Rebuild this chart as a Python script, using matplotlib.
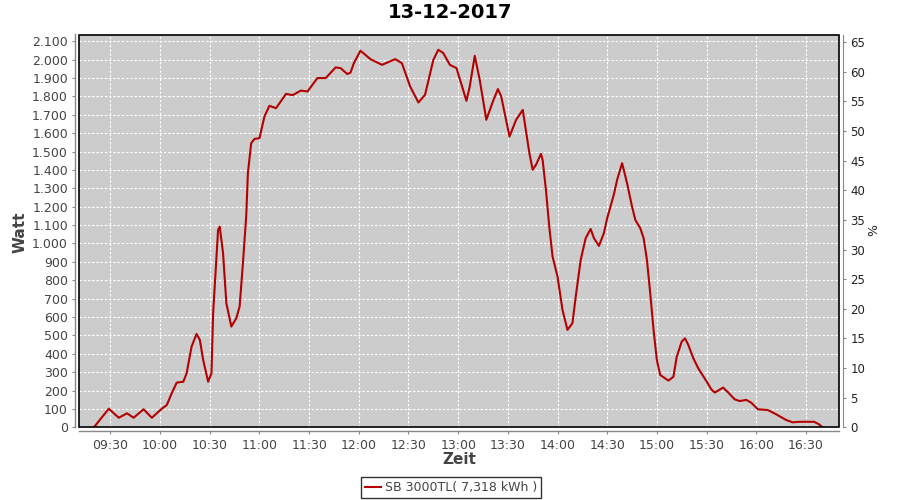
import matplotlib
matplotlib.use("Agg")
import matplotlib.pyplot as plt
import matplotlib.dates as mdates
from matplotlib.ticker import FuncFormatter, MultipleLocator
from matplotlib.patches import Rectangle
import pandas as pd

title = "13-12-2017"
series_label = "SB 3000TL( 7,318 kWh )"
times = [
    "09:20", "09:29", "09:35", "09:40", "09:44", "09:50", "09:55", "10:01", "10:04", "10:07",
    "10:10", "10:14", "10:16", "10:19", "10:22", "10:24", "10:26", "10:29", "10:31", "10:32",
    "10:35", "10:36", "10:38", "10:40", "10:43", "10:46", "10:48", "10:50", "10:52", "10:53",
    "10:55", "10:57", "11:00", "11:03", "11:06", "11:10", "11:16", "11:20", "11:25", "11:29",
    "11:35", "11:40", "11:46", "11:49", "11:53", "11:55", "11:57", "12:01", "12:07", "12:14",
    "12:22", "12:26", "12:31", "12:36", "12:40", "12:45", "12:48", "12:51", "12:55", "12:59",
    "13:05", "13:07", "13:10", "13:13", "13:17", "13:21", "13:24", "13:26", "13:31", "13:35",
    "13:39", "13:43", "13:45", "13:47", "13:50", "13:51", "13:53", "13:55", "13:57", "14:00",
    "14:03", "14:06", "14:09", "14:11", "14:14", "14:17", "14:20", "14:22", "14:25", "14:28",
    "14:30", "14:34", "14:36", "14:39", "14:42", "14:45", "14:47", "14:50", "14:52", "14:54",
    "14:56", "14:58", "15:00", "15:02", "15:07", "15:10", "15:12", "15:15", "15:17", "15:19",
    "15:22", "15:25", "15:30", "15:33", "15:35", "15:40", "15:43", "15:47", "15:50", "15:54",
    "15:57", "16:01", "16:07", "16:12", "16:18", "16:22", "16:26", "16:35", "16:38", "16:40",
]
watts = [
    0, 101, 52, 76, 52, 98, 52, 101, 121, 185,
    243, 248, 294, 439, 508, 475, 366, 248, 294, 620,
    1074, 1092, 947, 675, 548, 593, 657, 893, 1150, 1383,
    1546, 1569, 1573, 1691, 1749, 1736, 1814, 1807, 1832, 1827,
    1900, 1900, 1958, 1954, 1922, 1930, 1981, 2049, 2003, 1972,
    2003, 1981, 1854, 1767, 1809, 1999, 2054, 2036, 1972, 1954,
    1776, 1854, 2021, 1891, 1673, 1773, 1840, 1800, 1582, 1673,
    1727, 1492, 1401, 1428, 1488, 1455, 1292, 1092, 929, 820,
    639, 530, 566, 711, 911, 1029, 1079, 1029, 987, 1056,
    1138, 1265, 1346, 1437, 1328, 1201, 1128, 1083, 1029, 911,
    729, 530, 366, 285, 254, 275, 384, 466, 484, 448,
    376, 321, 250, 205, 189, 216, 190, 152, 143, 149,
    134, 98, 94, 71, 40, 27, 30, 30, 16, 0,
]
x_start, x_end = "09:11", "16:50"
watt_max = 2137
pct_max = 66.3

day = "2017-12-13 "
tx = pd.to_datetime([day + t for t in times])

fig = plt.figure(figsize=(9, 5), dpi=100)
fig.patch.set_facecolor("white")
L, R, T, B = 79, 839, 34.5, 427.3
ax = fig.add_axes([L / 900, 1 - B / 500, (R - L) / 900, (B - T) / 500])
ax.set_facecolor("#cccccc")

ax.plot(tx, watts, color="#b40000", lw=1.5, zorder=3, label=series_label)

ax.set_xlim(pd.Timestamp(day + x_start), pd.Timestamp(day + x_end))
ax.set_ylim(0, watt_max)
ax.xaxis.set_major_locator(mdates.MinuteLocator(byminute=[0, 30]))
ax.xaxis.set_major_formatter(mdates.DateFormatter("%H:%M"))
ax.yaxis.set_major_locator(MultipleLocator(100))
ax.yaxis.set_major_formatter(FuncFormatter(lambda v, p: f"{int(round(v)):,}".replace(",", ".")))

grid_kw = dict(color="white", lw=0.8, linestyle=(0, (2.2, 1.6)))
ax.grid(True, which="major", **grid_kw)
ax.set_axisbelow(True)

for s in ["top", "right"]:
    ax.spines[s].set_visible(False)
ax.spines["left"].set_position(("outward", 2.9))
ax.spines["bottom"].set_position(("outward", 2.5))
for s in ["left", "bottom"]:
    ax.spines[s].set_color("#888888")
    ax.spines[s].set_linewidth(1.0)
ax.tick_params(axis="both", direction="out", length=2, width=0.8, color="#888888",
               labelsize=9, labelcolor="#444444", pad=3)
ax.tick_params(axis="x", pad=4)

ax.add_patch(Rectangle((0, 0), 1, 1, transform=ax.transAxes, fill=False,
                       edgecolor="black", lw=1.2, clip_on=False, zorder=5))

ax2 = ax.twinx()
ax2.set_ylim(0, pct_max)
ax2.yaxis.set_major_locator(MultipleLocator(5))
for s in ["top", "left", "bottom"]:
    ax2.spines[s].set_visible(False)
ax2.spines["right"].set_position(("outward", 3.1))
ax2.spines["right"].set_color("#888888")
ax2.tick_params(axis="y", direction="out", length=2, width=0.8, color="#888888",
                labelsize=8.5, labelcolor="#222222", pad=3)

fig.text(0.5, 1 - 13 / 500, title, ha="center", va="center", fontsize=14,
         fontweight="bold", color="black")
fig.text(20 / 900, 1 - 232 / 500, "Watt", rotation=90, ha="center", va="center",
         fontsize=11, fontweight="bold", color="#444444")
fig.text(459 / 900, 1 - 459 / 500, "Zeit", ha="center", va="center",
         fontsize=11, fontweight="semibold", color="#444444")
fig.text(874 / 900, 1 - 230 / 500, "%", rotation=90, ha="center", va="center",
         fontsize=9, color="#222222")

leg = fig.legend(loc="center", bbox_to_anchor=(451 / 900, 1 - 487.5 / 500),
                 frameon=True, fancybox=False, edgecolor="black", fontsize=9,
                 handlelength=1.3, handletextpad=0.35, borderpad=0.3,
                 borderaxespad=0)
leg.get_frame().set_linewidth(1.0)
for t in leg.get_texts():
    t.set_color("#444444")

fig.savefig("out.png", dpi=100)
